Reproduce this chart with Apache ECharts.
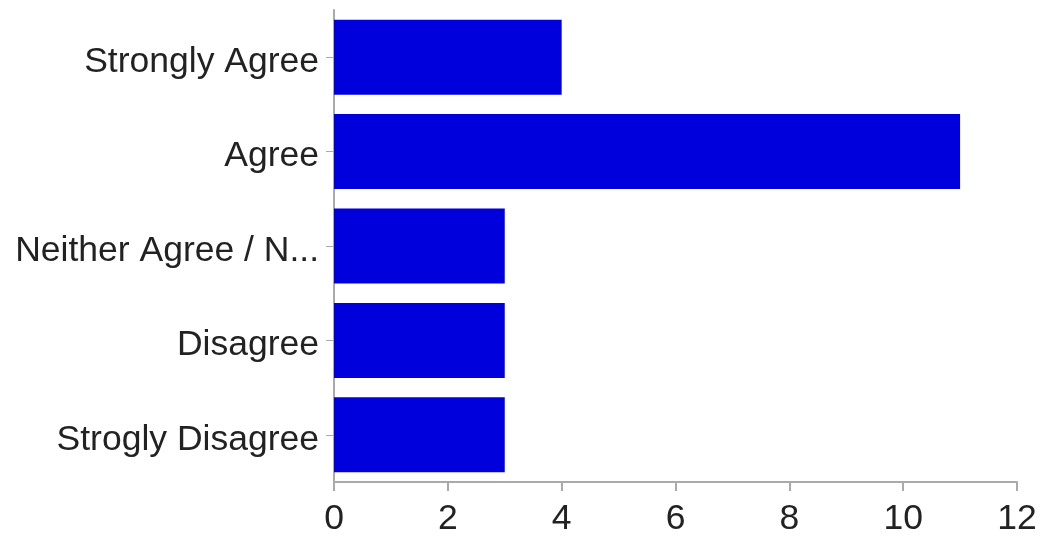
<!DOCTYPE html>
<html>
<head>
<meta charset="utf-8">
<script src="https://cdn.jsdelivr.net/npm/echarts@6/dist/echarts.min.js"></script>
<style>
html,body{margin:0;padding:0;background:#fff;}
#chart{width:1041px;height:537px;}
</style>
</head>
<body>
<div id="chart"></div>
<script>
const categories = ["Strongly Agree", "Agree", "Neither Agree / N...", "Disagree", "Strogly Disagree"];
const counts = [4, 11, 3, 3, 3];
const xTicks = [0, 2, 4, 6, 8, 10, 12];

const chart = echarts.init(document.getElementById('chart'));
chart.setOption({
  animation: false,
  backgroundColor: '#ffffff',
  grid: { left: 334, right: 24, top: 10, bottom: 50, containLabel: false },
  xAxis: {
    type: 'value',
    min: xTicks[0],
    max: xTicks[xTicks.length - 1],
    interval: 2,
    splitLine: { show: false },
    axisLine: { show: true, lineStyle: { color: '#aaaaaa', width: 2 } },
    axisTick: { show: true, length: 9, lineStyle: { color: '#aaaaaa', width: 2 } },
    axisLabel: { color: '#222222', fontSize: 35.5, fontFamily: 'Liberation Sans, Arial, sans-serif', margin: 19 }
  },
  yAxis: {
    type: 'category',
    data: categories,
    inverse: true,
    axisLine: { show: true, lineStyle: { color: '#aaaaaa', width: 2 } },
    axisTick: { show: true, alignWithLabel: true, length: 8, lineStyle: { color: '#aaaaaa', width: 1 } },
    axisLabel: {
      margin: 15,
      formatter: function (v) { return '{a|' + v + '}'; },
      rich: {
        a: { color: '#222222', fontSize: 35.5, fontFamily: 'Liberation Sans, Arial, sans-serif', padding: [10, 0, 0, 0] }
      }
    }
  },
  series: [{
    type: 'bar',
    data: counts,
    barWidth: 75,
    itemStyle: { color: '#0000dc' }
  }]
});
</script>
</body>
</html>
